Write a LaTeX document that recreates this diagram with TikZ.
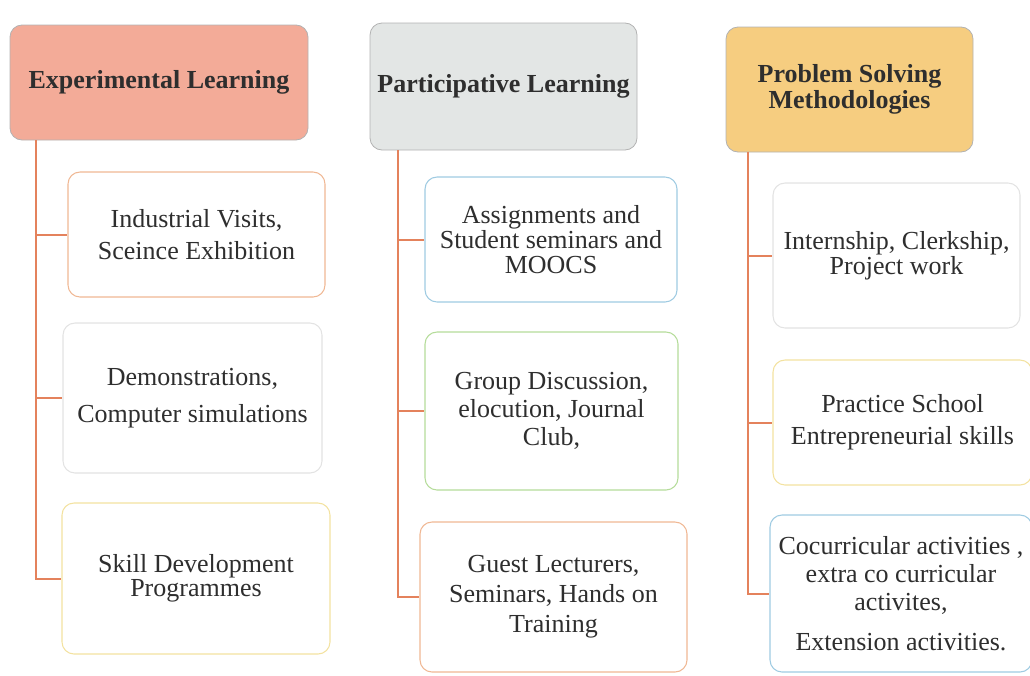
\documentclass[tikz,border=0pt]{standalone}
\usepackage{fontspec}
\setmainfont{Liberation Serif}
\usepackage{tikz}

\definecolor{linkred}{HTML}{E4825C}
\definecolor{headpink}{HTML}{F3AB98}
\definecolor{headgray}{HTML}{E3E6E5}
\definecolor{headgold}{HTML}{F6CD80}
\definecolor{edgeorange}{HTML}{F0B894}
\definecolor{edgegray}{HTML}{E3E3E3}
\definecolor{edgeyellow}{HTML}{F3E2A0}
\definecolor{edgeblue}{HTML}{9FCBE2}
\definecolor{edgegreen}{HTML}{B5DC9A}
\definecolor{inkgray}{HTML}{2E2E2E}

\tikzset{
  head/.style={draw=black!30,line width=0.6pt,rounded corners=9pt,inner sep=2pt,
    align=center,text=inkgray,font=\fontsize{19.5}{20}\selectfont\bfseries},
  item/.style={line width=0.8pt,rounded corners=9pt,inner sep=2pt,
    align=center,text=inkgray,fill=white},
  link/.style={draw=linkred,line width=1.5pt}
}

\begin{document}
\begin{tikzpicture}[x=0.75pt,y=-0.75pt]
\useasboundingbox (0,0) rectangle (1030,675);
\clip (0,0) rectangle (1030,675);

% headers
\node[head,fill=headpink,minimum width=223.5pt,minimum height=86.25pt] (h1) at (159,82.5) {Experimental Learning};
\node[head,fill=headgray,minimum width=200.25pt,minimum height=95.25pt] (h2) at (503.5,86.5) {Participative Learning};
\node[head,fill=headgold,minimum width=185.25pt,minimum height=93.75pt] (h3) at (849.5,89.5) {Problem Solving\\Methodologies};

% first column
\node[item,draw=edgeorange,minimum width=192.75pt,minimum height=93.75pt,font=\fontsize{19.5}{24}\selectfont] (a1) at (196.5,234.5)
  {Industrial Visits,\\Sceince Exhibition};
\node[item,draw=edgegray,minimum width=194.25pt,minimum height=112.5pt,font=\fontsize{19.5}{28}\selectfont] (a2) at (192.5,398)
  {Demonstrations,\\Computer simulations};
\node[item,draw=edgeyellow,minimum width=201pt,minimum height=113.25pt,font=\fontsize{19.5}{18}\selectfont] (a3) at (196,578.5)
  {Skill Development\\Programmes};

% second column
\node[item,draw=edgeblue,minimum width=189pt,minimum height=93.75pt,font=\fontsize{19.5}{19}\selectfont] (b1) at (551,239.5)
  {Assignments and\\Student seminars and\\MOOCS};
\node[item,draw=edgegreen,minimum width=189.75pt,minimum height=118.5pt,font=\fontsize{19.5}{21}\selectfont] (b2) at (551.5,411)
  {Group Discussion,\\elocution, Journal\\Club,};
\node[item,draw=edgeorange,minimum width=200.25pt,minimum height=112.5pt,font=\fontsize{19.5}{22.5}\selectfont] (b3) at (553.5,597)
  {Guest Lecturers,\\Seminars, Hands on\\Training};

% third column
\node[item,draw=edgegray,minimum width=185.25pt,minimum height=108.75pt,font=\fontsize{19.5}{17.5}\selectfont] (c1) at (896.5,255.5)
  {Internship, Clerkship,\\Project work};
\node[item,draw=edgeyellow,minimum width=194.25pt,minimum height=93.75pt,font=\fontsize{19.5}{24}\selectfont] (c2) at (902.5,422.5)
  {Practice School\\Entrepreneurial skills};
\node[item,draw=edgeblue,minimum width=196.5pt,minimum height=117.75pt,font=\fontsize{19.5}{21}\selectfont] (c3) at (901,593.5)
  {Cocurricular activities ,\\extra co curricular\\activites,\\[9pt]Extension activities.};

% trunks
\coordinate (t1) at (36,0);
\coordinate (t2) at (398,0);
\coordinate (t3) at (748,0);
\foreach \k in {a1,a2,a3} \draw[link] (t1 |- h1.south) |- (\k.west);
\foreach \k in {b1,b2,b3} \draw[link] (t2 |- h2.south) |- (\k.west);
\foreach \k in {c1,c2,c3} \draw[link] (t3 |- h3.south) |- (\k.west);
\end{tikzpicture}
\end{document}
